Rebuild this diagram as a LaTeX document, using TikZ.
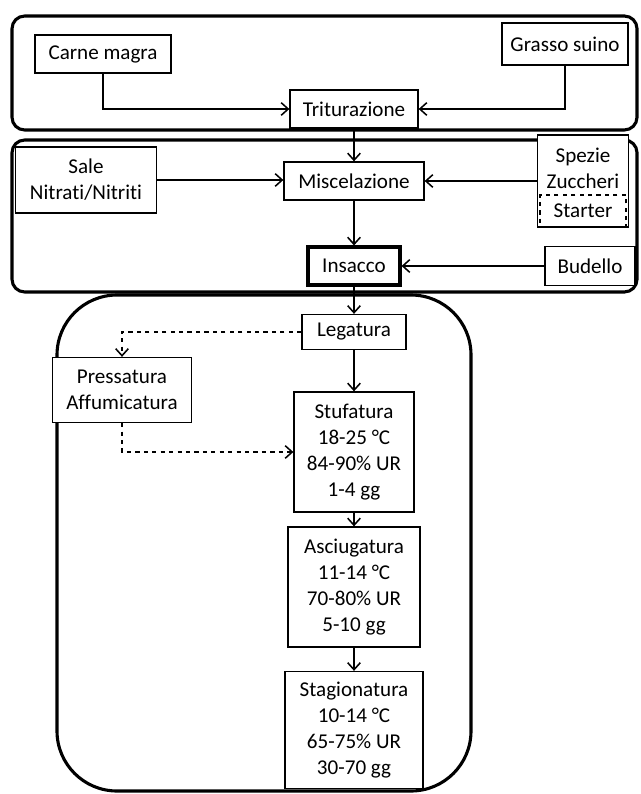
\documentclass[tikz,border=0pt]{standalone}
\usepackage{fontspec}
\setmainfont[Ligatures=NoCommon]{Carlito}
\usetikzlibrary{arrows.meta}
\begin{document}
\begin{tikzpicture}[x=0.025cm,y=-0.025cm,
  every node/.style={font=\fontsize{15}{18.4}\selectfont,align=center,inner sep=1pt},
  box/.style={draw=black,line width=0.9pt},
  arr/.style={line width=1.1pt,-{Straight Barb[length=5pt,width=9pt,line width=1.1pt]}},
  group/.style={draw=black,line width=2.2pt}]
\useasboundingbox (0,0) rectangle (640,794);
% Groups
\draw[group,rounded corners=9pt] (12,16) rectangle (637,130);
\draw[group,rounded corners=9pt] (12,140) rectangle (637,292);
\draw[group,rounded corners=1.5cm] (57,295) rectangle (471,791);
% Top group
\node(carne)[box,minimum width=3.4cm,minimum height=0.95cm] at (103,54) {Carne magra};
\node(grasso)[box,minimum width=3.15cm,minimum height=1.05cm] at (565,44) {Grasso suino};
\node(trit)[box,fill=white,minimum width=3.2cm,minimum height=0.95cm] at (354,109) {Triturazione};
% Middle group
\node(sale)[box,minimum width=3.525cm,minimum height=1.65cm] at (86,180) {Sale\\Nitrati/Nitriti};
\node(misc)[box,minimum width=3.5cm,minimum height=0.95cm] at (354,181) {Miscelazione};
\node(spezie)[box,fill=white,minimum width=2.275cm,minimum height=2.3cm] at (583,181) {};
\node(spezietxt) at (583,168) {Spezie\\Zuccheri};
\node(starter)[box,dashed,minimum width=2.15cm,minimum height=0.8cm] at (583,211) {Starter};
\node(insacco)[draw=black,line width=2.2pt,fill=white,minimum width=2.3cm,minimum height=0.95cm] at (354,266) {Insacco};
\node(budello)[box,fill=white,minimum width=2.25cm,minimum height=0.975cm] at (590,266) {Budello};
% Bottom group
\node(legatura)[box,fill=white,minimum width=2.6cm,minimum height=0.875cm] at (354,332) {Legatura};
\node(press)[box,fill=white,minimum width=3.475cm,minimum height=1.625cm] at (122,390) {Pressatura\\Affumicatura};
\node(stuf)[box,minimum width=3cm,minimum height=3cm] at (354,452) {Stufatura\\18-25 °C\\84-90\% UR\\1-4 gg};
\node(asciu)[box,minimum width=3.3cm,minimum height=3cm] at (354,587) {Asciugatura\\11-14 °C\\70-80\% UR\\5-10 gg};
\node(stag)[box,fill=white,minimum width=3.45cm,minimum height=2.925cm] at (354,730) {Stagionatura\\10-14 °C\\65-75\% UR\\30-70 gg};
% Arrows
\draw[arr] (carne.south) |- (trit.west);
\draw[arr] (grasso.south) |- (trit.east);
\draw[arr] (trit.south) -- (misc.north);
\draw[arr] (sale.east) -- (sale.east -| misc.west);
\draw[arr] (spezie.west |- misc.east) -- (misc.east);
\draw[arr] (misc.south) -- (insacco.north);
\draw[arr] (budello.west) -- (insacco.east);
\draw[arr] (insacco.south) -- (legatura.north);
\draw[arr,dashed] (legatura.west) -| (press.north);
\draw[arr,dashed] (press.south) |- (stuf.west);
\draw[arr] (legatura.south) -- (stuf.north);
\draw[arr] (stuf.south) -- (asciu.north);
\draw[arr] (asciu.south) -- (stag.north);
\end{tikzpicture}
\end{document}
